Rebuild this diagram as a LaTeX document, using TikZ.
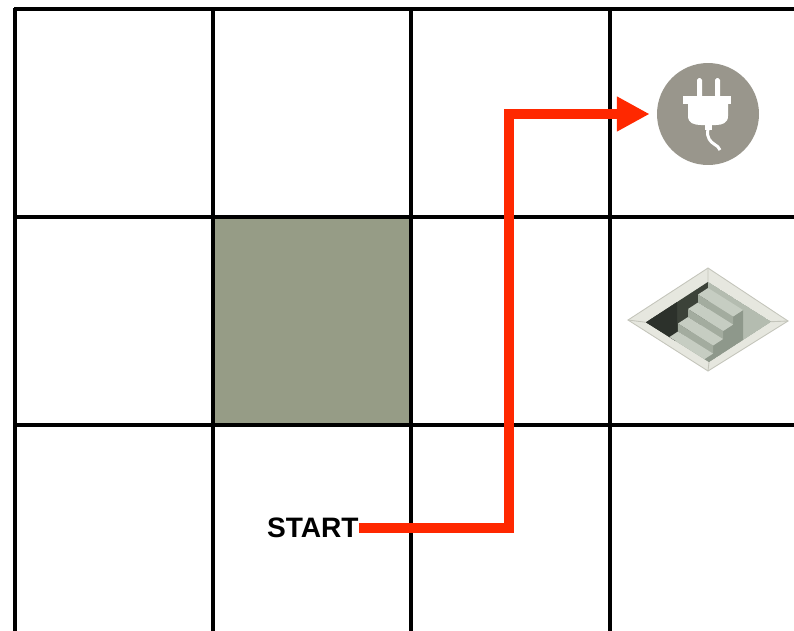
\documentclass[tikz,border=0pt]{standalone}
\usepackage{fontspec}
\setsansfont{Liberation Sans}
\usetikzlibrary{arrows.meta}
\definecolor{FloorShade}{HTML}{969C86}
\definecolor{RouteRed}{HTML}{FF2800}
\definecolor{PlugGrey}{HTML}{99968C}
\definecolor{StoneLight}{HTML}{E6E7DF}
\definecolor{StoneEdge}{HTML}{C4C5BB}
\definecolor{StoneFloor}{HTML}{9BA398}
\definecolor{StoneWall}{HTML}{B4BCB0}
\definecolor{StoneTread}{HTML}{C6CDC2}
\definecolor{StoneRiser}{HTML}{A3AC9F}
\definecolor{StoneSide}{HTML}{8E988B}
\definecolor{StoneDark}{HTML}{3C4239}
\definecolor{StoneDarker}{HTML}{2C312B}
% point inside the pit: along the left edge, along the right edge, depth
\newcommand\pitpt[3]{({-(#1)+(#2)},{-38+0.65*(#1)+0.63*(#2)+(#3)})}

\begin{document}
\begin{tikzpicture}[x=0.02cm,y=-0.02cm,
  grid/.style={line width=2.3pt},
  route/.style={RouteRed,line width=6.2pt,-{Triangle[length=18.7pt,width=18.7pt]},shorten >=4pt}]
  \useasboundingbox (0,0) rectangle (794,630); \clip (0,0) rectangle (794,630);
  % board
  \fill[FloorShade] (213,217) rectangle (411,425);
  \foreach \x in {15,213,411,610} \draw[grid] (\x,8) -- (\x,640);
  \foreach \y in {9,217,425} \draw[grid] (14,\y) -- (800,\y);
  % charging point
  \node[circle,fill=PlugGrey,minimum size=2.04cm,inner sep=0] (plug) at (708,114) {};
  \begin{scope}[shift={(plug.center)}]
    \fill[white,rounded corners=1pt] (-11,-36) rectangle (-6,-16); \fill[white,rounded corners=1pt] (7,-36) rectangle (12,-16);
    \fill[white] (-25,-18) rectangle (23,-10);
    \fill[white] (-20,-11) -- (20,-11) -- (20,2) .. controls (20,9) and (14,11) .. (8,11) -- (-7,11) .. controls (-14,11) and (-20,9) .. (-20,2) -- cycle;
    \fill[white] (-3,10) rectangle (4,16);
    \draw[white,line width=1.7pt] (0,15) .. controls (-2,24) and (3,28) .. (6,30) .. controls (9,32) and (11,33) .. (12,36);
  \end{scope}
  % stairs down
  \coordinate (stairs) at (708,320);
  \begin{scope}[shift={(stairs)}]
    \fill[StoneLight] (-80,0) -- (0,-52) -- (80,1) -- (0,51) -- cycle; \draw[StoneEdge,line width=0.5pt] (-80,0) -- (0,-52) -- (80,1) -- (0,51) -- cycle;
    \draw[StoneEdge,line width=0.5pt] \pitpt{62}{0}{0} -- (-80,0) \pitpt{0}{0}{0} -- (0,-52) \pitpt{0}{63}{0} -- (80,1) \pitpt{62}{63}{0} -- (0,51);
    \begin{scope}
      \clip \pitpt{0}{0}{0} -- \pitpt{62}{0}{0} -- \pitpt{62}{63}{0} -- \pitpt{0}{63}{0} -- cycle;
      \fill[StoneFloor] \pitpt{0}{0}{0} -- \pitpt{62}{0}{0} -- \pitpt{62}{63}{0} -- \pitpt{0}{63}{0} -- cycle;
      \fill[StoneDark] \pitpt{0}{0}{0} -- \pitpt{62}{0}{0} -- \pitpt{62}{0}{38} -- \pitpt{0}{0}{38} -- cycle;
      \fill[StoneDarker] \pitpt{31}{0}{0} -- \pitpt{62}{0}{0} -- \pitpt{62}{0}{38} -- \pitpt{31}{0}{38} -- cycle;
      \fill[StoneWall] \pitpt{0}{0}{0} -- \pitpt{0}{63}{0} -- \pitpt{0}{63}{38} -- \pitpt{0}{0}{38} -- cycle;
      \fill[StoneSide] \pitpt{0}{35}{6} -- \pitpt{10}{35}{6} -- \pitpt{10}{35}{14} -- \pitpt{20}{35}{14} -- \pitpt{20}{35}{22} -- \pitpt{30}{35}{22} -- \pitpt{30}{35}{30} -- \pitpt{40}{35}{30} -- \pitpt{40}{35}{38} -- \pitpt{0}{35}{38} -- cycle;
      \foreach \k in {0,...,3} {
        \fill[StoneTread] \pitpt{10*\k}{0}{6+8*\k} -- \pitpt{10*\k+10}{0}{6+8*\k} -- \pitpt{10*\k+10}{35}{6+8*\k} -- \pitpt{10*\k}{35}{6+8*\k} -- cycle;
        \fill[StoneRiser] \pitpt{10*\k+10}{0}{6+8*\k} -- \pitpt{10*\k+10}{35}{6+8*\k} -- \pitpt{10*\k+10}{35}{14+8*\k} -- \pitpt{10*\k+10}{0}{14+8*\k} -- cycle;
      }
    \end{scope}
  \end{scope}
  % route from the start
  \node[anchor=east,inner sep=0pt,font=\sffamily\bfseries\fontsize{16}{19}\selectfont] (start) at (359,528) {START};
  \coordinate (bend) at (509,114);
  \draw[route] (start.east) -| (bend) -- (plug.west);
\end{tikzpicture}
\end{document}
